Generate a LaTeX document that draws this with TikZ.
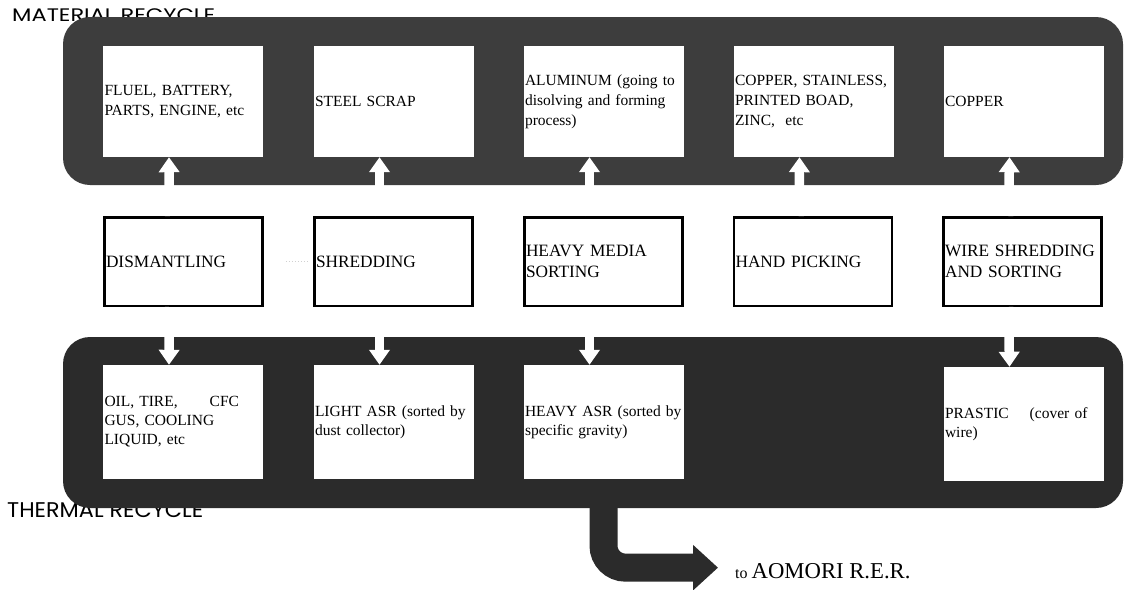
\documentclass[tikz,border=0pt]{standalone}
\usepackage{graphicx}
\usepackage{fontspec}
\setmainfont{Liberation Serif}
\newfontfamily\labfont{Poppins}
\usetikzlibrary{arrows.meta}
\definecolor{topc}{gray}{0.24}
\definecolor{botc}{gray}{0.17}
\tikzset{
  bandbox/.style={rounded corners=27pt, inner sep=0pt},
  topbox/.style={fill=white, text width=157pt, inner xsep=1.5pt, inner ysep=0pt,
    minimum height=111pt, align=left, font=\fontsize{15.5}{20}\selectfont},
  botbox/.style={topbox, minimum height=114pt, font=\fontsize{15.5}{19}\selectfont},
  midbox/.style={draw=black, line width=2.5pt, fill=white, text width=155pt,
    inner xsep=1.5pt, inner ysep=0pt, minimum height=88.5pt, align=left,
    font=\fontsize{17.3}{21}\selectfont},
  whitearrow/.style={draw=white, line width=9.5pt, -{Triangle[width=20pt,length=15pt]}},
  bigarrow/.style={draw=botc, line width=28pt, rounded corners=22pt,
    -{Triangle[width=44pt,length=25pt]}},
  lab/.style={inner sep=0pt, anchor=base west},
  faint/.style={draw=black!18, dotted, line width=1pt},
}
\begin{document}
\begin{tikzpicture}[x=1pt,y=-1pt]
\path[use as bounding box, fill=white] (0,0) rectangle (1126,589);

% side labels (under the bands)
\node[lab] (matlab) at (12,21) {\resizebox{203pt}{12.8pt}{\labfont MATERIAL RECYCLE}};
\node[lab] (thelab) at (7,517) {\resizebox{196pt}{15pt}{\labfont THERMAL RECYCLE}};

% bands
\node[bandbox, fill=topc, minimum width=1060pt, minimum height=168pt] (topband) at (593,101) {};
\node[bandbox, fill=botc, minimum width=1060pt, minimum height=171pt] (botband) at (593,422.5) {};

% top row
\node[topbox] (t1) at (183,101.5) {FLUEL, BATTERY,\\PARTS, ENGINE, etc};
\node[topbox] (t2) at (393.5,101.5) {STEEL SCRAP};
\node[topbox] (t3) at (603.5,101.5) {ALUMINUM (going to\\disolving and forming\\process)};
\node[topbox] (t4) at (813.5,101.5) {COPPER, STAINLESS,\\PRINTED BOAD,\\ZINC,~ etc};
\node[topbox] (t5) at (1023.5,101.5) {COPPER};

% middle row
\node[midbox] (m1) at (183.5,261.5) {DISMANTLING};
\node[midbox] (m2) at (393.5,261.5) {SHREDDING};
\node[midbox] (m3) at (603.5,261.5) {HEAVY MEDIA\\SORTING};
\node[midbox] (m4) at (813,261.5) {HAND PICKING};
\node[midbox] (m5) at (1022.5,261.5) {WIRE SHREDDING\\AND SORTING};

% bottom row
\node[botbox] (b1) at (183,422) {OIL, TIRE,\hspace{32pt}CFC\\GUS, COOLING\\LIQUID, etc};
\node[botbox] (b2) at (393.5,422) {LIGHT ASR (sorted by\\dust collector)};
\node[botbox] (b3) at (603.5,422) {HEAVY ASR (sorted by\\specific gravity)};
\node[botbox] (b5) at (1023.5,424) {PRASTIC\hspace{21pt}(cover of\\wire)};

% faint trace between dismantling and shredding
\draw[faint, shorten <=22pt, shorten >=6pt] (m1.east) -- (m2.west);

% up arrows
\foreach \i in {1,...,5}{
  \draw[whitearrow] ([xshift=-14pt]m\i.north) -- ([xshift=-14pt]t\i.south);
}
% down arrows
\foreach \i in {1,2,3,5}{
  \draw[whitearrow] ([xshift=-14pt]m\i.south) -- ([xshift=-14pt]b\i.north);
}

% exit to Aomori
\node[lab] (aom) at (735,578) {{\fontsize{16}{18}\selectfont to }{\fontsize{22.7}{26}\selectfont AOMORI R.E.R.}};
\draw[bigarrow] (b3.south) |- ([xshift=-17pt,yshift=3pt]aom.west);
\end{tikzpicture}
\end{document}
